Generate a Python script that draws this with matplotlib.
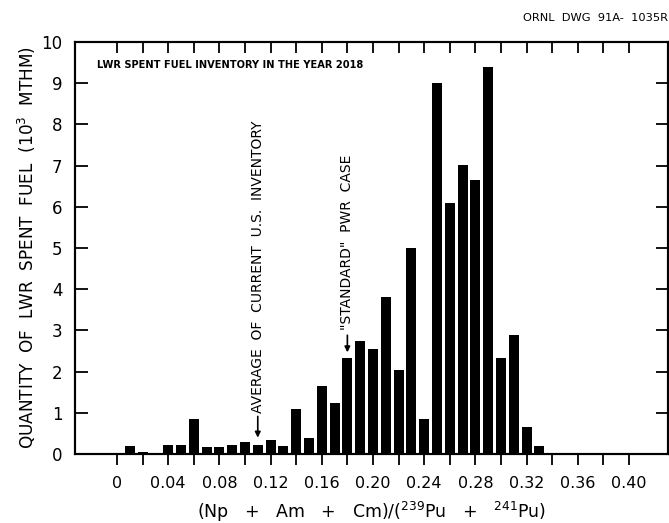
import numpy as np
import matplotlib.pyplot as plt
from matplotlib.ticker import FixedLocator, FuncFormatter

# ratio bins (Np+Am+Cm)/(Pu-239+Pu-241) and spent fuel quantity (10^3 MTHM)
ratio = [0.00, 0.01, 0.02, 0.03, 0.04, 0.05, 0.06, 0.07, 0.08, 0.09,
         0.10, 0.11, 0.12, 0.13, 0.14, 0.15, 0.16, 0.17, 0.18, 0.19,
         0.20, 0.21, 0.22, 0.23, 0.24, 0.25, 0.26, 0.27, 0.28, 0.29,
         0.30, 0.31, 0.32, 0.33, 0.34, 0.35, 0.36, 0.37, 0.38, 0.39, 0.40]
quantity = [0.02, 0.19, 0.04, 0.03, 0.23, 0.23, 0.84, 0.16, 0.18, 0.23,
            0.28, 0.23, 0.35, 0.20, 1.10, 0.40, 1.65, 1.24, 2.34, 2.74,
            2.54, 3.81, 2.05, 5.00, 0.86, 9.00, 6.10, 7.01, 6.65, 9.40,
            2.34, 2.89, 0.65, 0.20, 0.02, 0.02, 0.02, 0.02, 0.02, 0.02, 0.02]

labeled_ticks = [0.00, 0.04, 0.08, 0.12, 0.16, 0.20, 0.24, 0.28, 0.32, 0.36, 0.40]
all_ticks = [round(0.02 * i, 2) for i in range(21)]

avg_current = 0.11      # average of current U.S. inventory
standard_pwr = 0.18     # "standard" PWR case

fig = plt.figure(figsize=(6.69, 5.23), dpi=100)
ax = fig.add_axes([0.1121, 0.1319, 0.8864, 0.7878])

ax.bar(ratio, quantity, width=0.0078, color='black', align='center')

ax.set_xlim(-0.0328, 0.4305)
ax.set_ylim(0, 10)

ax.xaxis.set_major_locator(FixedLocator(labeled_ticks))
ax.xaxis.set_minor_locator(FixedLocator(all_ticks))
ax.yaxis.set_major_locator(FixedLocator(range(11)))
ax.xaxis.set_major_formatter(FuncFormatter(lambda v, p: '0' if abs(v) < 1e-9 else f'{v:.2f}'))

ax.tick_params(axis='x', which='both', direction='out', length=8, width=1.3,
               bottom=True, top=False, labelsize=11.5, pad=8)
ax.tick_params(axis='y', which='major', direction='in', length=9, width=1.3,
               left=True, right=True, labelsize=12, pad=9)

# inward ticks along the top edge
top = ax.twiny()
top.set_xlim(ax.get_xlim())
top.xaxis.set_major_locator(FixedLocator(all_ticks))
top.tick_params(direction='in', length=8, width=1.3, labeltop=False)

for s in list(ax.spines.values()) + list(top.spines.values()):
    s.set_linewidth(1.5)

ax.set_ylabel('QUANTITY  OF  LWR  SPENT  FUEL  (10$^3$  MTHM)', fontsize=12.2)
ax.yaxis.set_label_coords(-0.062, 0.5)
ax.set_xlabel('(Np   +   Am   +   Cm)/($^{239}$Pu   +   $^{241}$Pu)', fontsize=12.5, labelpad=6)

ax.text(-0.0156, 9.44, 'LWR SPENT FUEL INVENTORY IN THE YEAR 2018', fontsize=7.1,
        fontweight='bold', va='center', ha='left')
fig.text(0.999, 0.965, 'ORNL  DWG  91A-  1035R', fontsize=8.2, ha='right', va='center')

ax.annotate('', xy=(avg_current, 0.33), xytext=(avg_current, 0.98),
            arrowprops=dict(arrowstyle='-|>', color='black', lw=1.2, mutation_scale=8))
ax.text(avg_current, 1.0, 'AVERAGE  OF  CURRENT  U.S.  INVENTORY', rotation=90,
        ha='center', va='bottom', fontsize=10)

ax.annotate('', xy=(standard_pwr, 2.4), xytext=(standard_pwr, 2.95),
            arrowprops=dict(arrowstyle='-|>', color='black', lw=1.2, mutation_scale=8))
ax.text(standard_pwr, 3.0, '"STANDARD"  PWR  CASE', rotation=90,
        ha='center', va='bottom', fontsize=10)

plt.savefig('out.png', dpi=100)
